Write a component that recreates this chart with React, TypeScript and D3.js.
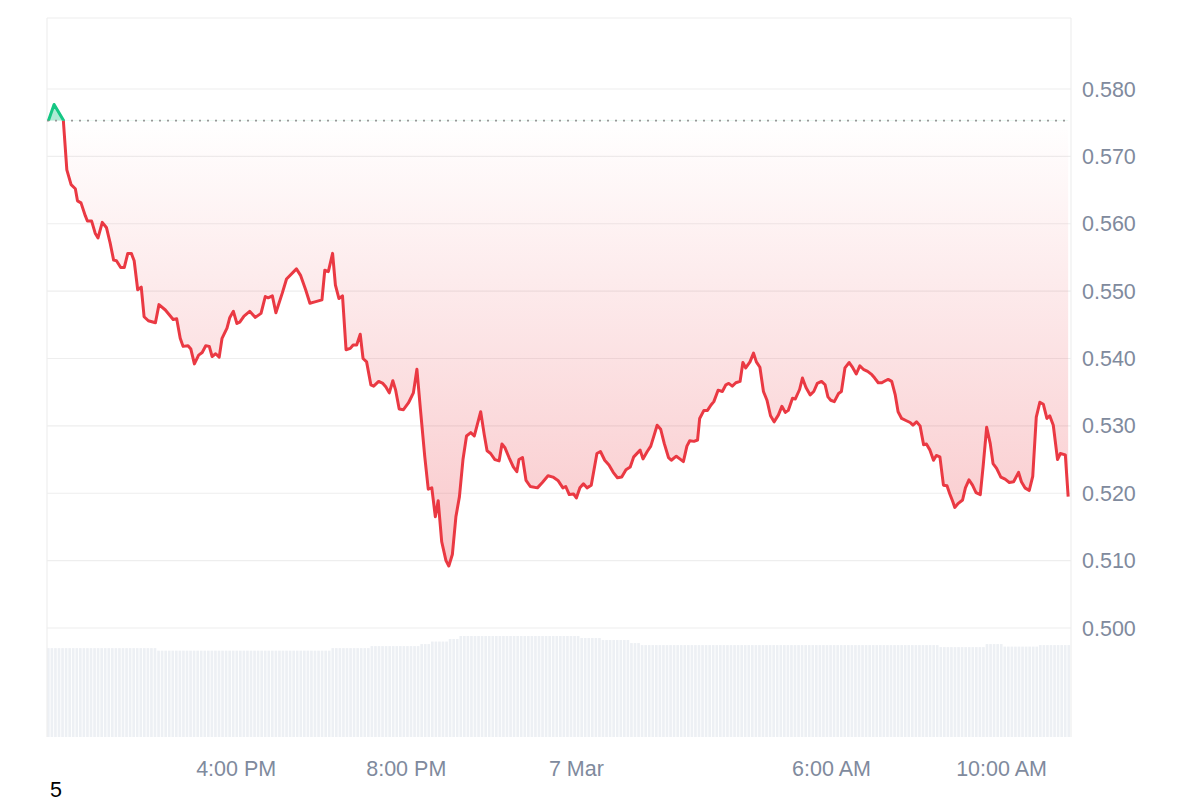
import React from "react";
import * as d3 from "d3";

// ---- DATA ----
// minutes since 6 Mar 11:33
const minutes = [
  2, 10, 23, 28, 34, 40, 43, 48, 54, 57, 63, 68, 72, 78, 84, 89, 94, 98, 104, 109,
  114, 119, 123, 128, 133, 137, 143, 153, 158, 167, 174, 178, 183, 188, 192, 199, 203, 208, 214, 219,
  224, 229, 233, 238, 243, 247, 254, 258, 263, 268, 272, 278, 286, 294, 302, 308, 312, 318, 323, 332,
  338, 352, 358, 365, 371, 378, 388, 392, 397, 403, 407, 412, 417, 422, 428, 432, 437, 442, 446, 451,
  457, 461, 468, 474, 478, 483, 488, 492, 497, 503, 510, 517, 522, 527, 533, 538, 543, 548, 552, 557,
  563, 567, 572, 577, 582, 587, 592, 598, 603, 607, 612, 617, 621, 626, 632, 638, 642, 646, 652, 658,
  663, 666, 671, 676, 682, 692, 699, 707, 714, 721, 728, 732, 737, 743, 747, 752, 757, 762, 768, 776,
  781, 787, 793, 799, 805, 811, 817, 823, 828, 837, 841, 847, 852, 857, 861, 866, 871, 877, 881, 888,
  893, 898, 903, 907, 913, 918, 921, 927, 932, 937, 941, 947, 953, 958, 962, 967, 972, 978, 982, 986,
  992, 997, 1001, 1006, 1011, 1016, 1021, 1026, 1032, 1037, 1042, 1046, 1052, 1056, 1062, 1066, 1071, 1077, 1082, 1087,
  1093, 1098, 1102, 1106, 1111, 1117, 1121, 1126, 1132, 1136, 1142, 1147, 1152, 1158, 1164, 1168, 1173, 1178, 1183, 1187,
  1192, 1197, 1201, 1206, 1212, 1218, 1222, 1227, 1232, 1237, 1241, 1246, 1251, 1255, 1260, 1265, 1270, 1274, 1278, 1281,
  1286, 1292, 1296, 1301, 1306, 1311, 1317, 1321, 1326, 1331, 1335, 1340, 1346, 1352, 1358, 1364, 1371, 1375, 1380, 1386,
  1391, 1396, 1401, 1406, 1411, 1415, 1420, 1426, 1430, 1437, 1441,
];

const prices = [
  0.5753, 0.5777, 0.5754, 0.5680, 0.5658, 0.5652, 0.5634, 0.5631, 0.5612, 0.5604, 0.5604, 0.5586, 0.5579, 0.5602, 0.5594, 0.5572, 0.5546, 0.5545, 0.5535, 0.5535,
  0.5556, 0.5556, 0.5545, 0.5502, 0.5506, 0.5462, 0.5456, 0.5453, 0.5480, 0.5472, 0.5463, 0.5458, 0.5459, 0.5430, 0.5418, 0.5419, 0.5414, 0.5392, 0.5405, 0.5409,
  0.5419, 0.5418, 0.5403, 0.5407, 0.5402, 0.5430, 0.5445, 0.5461, 0.5470, 0.5452, 0.5454, 0.5463, 0.5470, 0.5461, 0.5467, 0.5492, 0.5490, 0.5493, 0.5468, 0.5497,
  0.5518, 0.5533, 0.5523, 0.5502, 0.5482, 0.5484, 0.5487, 0.5531, 0.5529, 0.5556, 0.5509, 0.5489, 0.5493, 0.5413, 0.5415, 0.5420, 0.5420, 0.5436, 0.5400, 0.5395,
  0.5361, 0.5359, 0.5366, 0.5363, 0.5358, 0.5349, 0.5367, 0.5353, 0.5325, 0.5324, 0.5334, 0.5349, 0.5384, 0.5324, 0.5255, 0.5206, 0.5208, 0.5165, 0.5189, 0.5128,
  0.5100, 0.5092, 0.5109, 0.5165, 0.5195, 0.5250, 0.5285, 0.5290, 0.5285, 0.5301, 0.5321, 0.5287, 0.5263, 0.5259, 0.5250, 0.5248, 0.5273, 0.5268, 0.5253, 0.5239,
  0.5232, 0.5250, 0.5253, 0.5219, 0.5210, 0.5208, 0.5216, 0.5226, 0.5224, 0.5219, 0.5208, 0.5210, 0.5198, 0.5199, 0.5193, 0.5208, 0.5214, 0.5208, 0.5212, 0.5259,
  0.5262, 0.5249, 0.5242, 0.5231, 0.5223, 0.5224, 0.5235, 0.5239, 0.5254, 0.5264, 0.5251, 0.5262, 0.5270, 0.5287, 0.5301, 0.5295, 0.5274, 0.5253, 0.5249, 0.5255,
  0.5251, 0.5247, 0.5270, 0.5278, 0.5277, 0.5279, 0.5311, 0.5323, 0.5323, 0.5331, 0.5336, 0.5353, 0.5351, 0.5361, 0.5363, 0.5359, 0.5364, 0.5366, 0.5394, 0.5386,
  0.5395, 0.5408, 0.5395, 0.5387, 0.5351, 0.5338, 0.5315, 0.5306, 0.5316, 0.5329, 0.5320, 0.5323, 0.5341, 0.5340, 0.5354, 0.5371, 0.5357, 0.5346, 0.5351, 0.5363,
  0.5366, 0.5361, 0.5343, 0.5338, 0.5336, 0.5348, 0.5351, 0.5386, 0.5394, 0.5388, 0.5377, 0.5389, 0.5384, 0.5381, 0.5376, 0.5371, 0.5364, 0.5364, 0.5367, 0.5369,
  0.5366, 0.5346, 0.5321, 0.5311, 0.5308, 0.5305, 0.5301, 0.5306, 0.5300, 0.5272, 0.5273, 0.5264, 0.5249, 0.5256, 0.5254, 0.5212, 0.5211, 0.5199, 0.5188, 0.5179,
  0.5185, 0.5190, 0.5208, 0.5220, 0.5212, 0.5201, 0.5198, 0.5240, 0.5298, 0.5274, 0.5244, 0.5237, 0.5224, 0.5221, 0.5216, 0.5217, 0.5231, 0.5217, 0.5208, 0.5204,
  0.5225, 0.5313, 0.5335, 0.5332, 0.5311, 0.5315, 0.5301, 0.5250, 0.5259, 0.5257, 0.5195,
];

const openPrice = 0.5753;

// volume bars (5-minute buckets), run-length: [relative volume, bar count]
const volumeRuns: [number, number][] = [
  [88, 31], [85.5, 49], [88, 11], [90, 14], [92, 3], [94.5, 5], [97, 3], [100, 34],
  [98, 6], [96, 8], [93, 3], [91, 84], [89, 13], [92, 5], [89.5, 10], [91, 9],
];

const yTicks = [0.5, 0.51, 0.52, 0.53, 0.54, 0.55, 0.56, 0.57, 0.58];
const xTickTimes = ["2025-03-06T16:00", "2025-03-06T20:00", "2025-03-07T00:00", "2025-03-07T06:00", "2025-03-07T10:00"];
const xTickLabels = ["4:00 PM", "8:00 PM", "7 Mar", "6:00 AM", "10:00 AM"];

const startTime = new Date(2025, 2, 6, 11, 33);
const endTime = new Date(2025, 2, 7, 11, 38);

const RED = "#ea3943";
const GREEN = "#16c784";
const LABEL = "#808a9d";
const FONT = "'Liberation Sans', Arial, Helvetica, sans-serif";

export default function App() {
  const left = 47, right = 1071, top = 18, bottom = 737;
  const x = d3.scaleTime().domain([startTime, endTime]).range([left, right]);
  const y = d3.scaleLinear().domain([0.5, 0.58]).range([628, 89]);
  const yVol = d3.scaleLinear().domain([0, 100]).range([bottom, 636]);

  const pts = minutes.map((m, i) => ({ t: new Date(startTime.getTime() + m * 60000), v: prices[i] }));
  const baseY = y(openPrice);
  const minY = y(d3.min(prices) as number);

  const line = d3.line<{ t: Date; v: number }>().x(d => x(d.t)).y(d => y(d.v));
  const area = d3.area<{ t: Date; v: number }>().x(d => x(d.t)).y0(baseY).y1(d => y(d.v));
  const lineD = line(pts) || "";
  const areaD = area(pts) || "";

  const vols: number[] = [];
  volumeRuns.forEach(([v, n]) => { for (let k = 0; k < n; k++) vols.push(v); });
  const barStep = (right - left) / vols.length;

  return (
    <svg width={1200} height={800} style={{ position: "absolute", left: 0, top: 0, background: "#fff" }}>
      <defs>
        <clipPath id="above"><rect x={0} y={0} width={1200} height={baseY} /></clipPath>
        <clipPath id="below"><rect x={0} y={baseY} width={1200} height={800 - baseY} /></clipPath>
        <linearGradient id="redGrad" gradientUnits="userSpaceOnUse" x1={0} y1={baseY} x2={0} y2={minY}>
          <stop offset="0" stopColor={RED} stopOpacity={0} />
          <stop offset="1" stopColor={RED} stopOpacity={0.28} />
        </linearGradient>
      </defs>

      {/* volume bars */}
      {vols.map((v, i) => (
        <rect key={i} x={left + i * barStep} y={yVol(v)} width={barStep - 0.9} height={bottom - yVol(v)} fill="#edf0f4" />
      ))}

      {/* grid */}
      {yTicks.map(t => (
        <line key={t} x1={left} x2={right} y1={y(t)} y2={y(t)} stroke="#eeeeee" strokeWidth={1.2} />
      ))}
      <line x1={left} x2={right} y1={top} y2={top} stroke="#eeeeee" strokeWidth={1.2} />
      <line x1={left} x2={left} y1={top} y2={bottom} stroke="#eeeeee" strokeWidth={1.2} />
      <line x1={right} x2={right} y1={top} y2={bottom} stroke="#eeeeee" strokeWidth={1.2} />

      {/* areas */}
      <path d={areaD} fill="url(#redGrad)" clipPath="url(#below)" />
      <path d={areaD} fill={GREEN} fillOpacity={0.35} clipPath="url(#above)" />

      {/* baseline */}
      <line x1={left} x2={right} y1={baseY} y2={baseY} stroke="#999" strokeWidth={1.6} strokeDasharray="2 6" />

      {/* price line */}
      <path d={lineD} fill="none" stroke={RED} strokeWidth={3} strokeLinejoin="round" clipPath="url(#below)" />
      <path d={lineD} fill="none" stroke={GREEN} strokeWidth={3} strokeLinejoin="round" clipPath="url(#above)" />

      {/* y labels */}
      {yTicks.map(t => (
        <text key={t} x={1082} y={y(t) + 7.5} fill={LABEL} fontSize={21.5} fontFamily={FONT}>{t.toFixed(3)}</text>
      ))}

      {/* x labels */}
      {xTickTimes.map((s, i) => (
        <text key={s} x={x(new Date(s))} y={776} fill={LABEL} fontSize={21.5} fontFamily={FONT} textAnchor="middle">{xTickLabels[i]}</text>
      ))}

      <text x={50} y={797} fill="#000" fontSize={21.5} fontFamily={FONT}>5</text>
    </svg>
  );
}
